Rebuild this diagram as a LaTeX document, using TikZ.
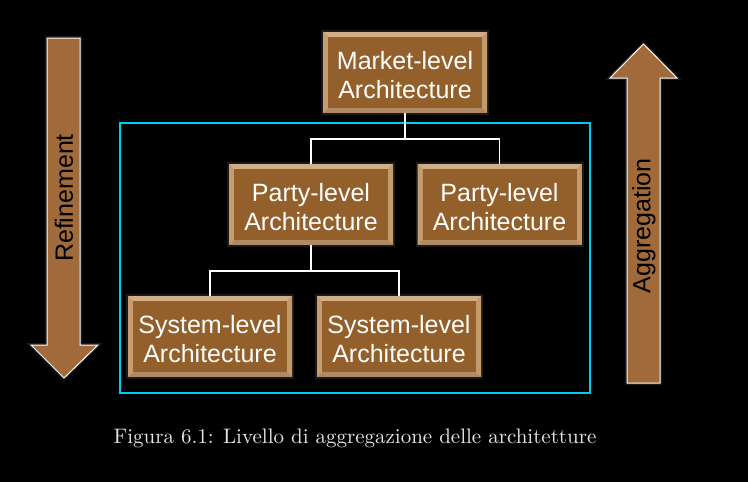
\documentclass[tikz,border=0pt]{standalone}
\usepackage{fontspec}
\newfontfamily\arialf{Liberation Sans}
\newfontfamily\capfont{lmroman10-regular}[Extension=.otf]
\usetikzlibrary{calc}
\newcommand\twolines[2]{\raisebox{-6pt}[\height][\depth]{\begin{tabular}{@{}c@{}}#1\\#2\end{tabular}}}
\definecolor{bginner}{HTML}{93602C}
\definecolor{bvtop}{HTML}{D2AE88}
\definecolor{bvleft}{HTML}{C69C70}
\definecolor{bvright}{HTML}{C29A6C}
\definecolor{bvbot}{HTML}{B08A64}
\definecolor{arrowfill}{HTML}{A06A3A}
\definecolor{framecyan}{HTML}{00CCEE}
\definecolor{captiongray}{HTML}{E6E6E6}
\tikzset{
  archbox/.style={minimum width=164pt, minimum height=81pt, inner sep=0pt,
    fill=bvbot, text=white, align=center,
    font=\arialf\fontsize{25}{29}\selectfont,
    preaction={draw=gray!60, line width=4pt, opacity=.15},
    path picture={
      \fill[bvtop] (path picture bounding box.north west) -- (path picture bounding box.north east) -- ++(-5pt,-5pt) -- ($(path picture bounding box.north west)+(5pt,-5pt)$) -- cycle;
      \fill[bvleft] (path picture bounding box.north west) -- (path picture bounding box.south west) -- ++(5pt,5pt) -- ($(path picture bounding box.north west)+(5pt,-5pt)$) -- cycle;
      \fill[bvright] (path picture bounding box.north east) -- (path picture bounding box.south east) -- ++(-5pt,5pt) -- ($(path picture bounding box.north east)+(-5pt,-5pt)$) -- cycle;
      \fill[bginner] ($(path picture bounding box.south west)+(5pt,5pt)$) rectangle ($(path picture bounding box.north east)+(-5pt,-5pt)$);
    }},
  conn/.style={draw=white, line width=1.5pt},
  bigarrow/.style={fill=arrowfill, draw=white, line width=1pt,
    preaction={draw=gray!60, line width=4pt, opacity=.15}},
  arrowtext/.style={rotate=90, text=black, font=\arialf\fontsize{25}{30}\selectfont, inner sep=0pt},
}
\begin{document}
\begin{tikzpicture}[x=1pt, y=-1pt]
  \fill[black] (0,0) rectangle (748,482);
  \useasboundingbox (0,0) rectangle (748,482);
  % frame
  \draw[framecyan, line width=1.2pt] (120,123) rectangle (590,393);
  % boxes
  \node[archbox] (m)  at (405,72.5)  {\twolines{Market-level}{Architecture}};
  \node[archbox] (p1) at (311,204.5) {\twolines{Party-level}{Architecture}};
  \node[archbox] (p2) at (499.5,204.5) {\twolines{Party-level}{Architecture}};
  \node[archbox] (s1) at (210,336.5) {\twolines{System-level}{Architecture}};
  \node[archbox] (s2) at (399,336.5) {\twolines{System-level}{Architecture}};
  % connectors
  \draw[conn] (m.south) -- ++(0,26) -| (p1.north);
  \draw[conn] (m.south) -- ++(0,26) -| (p2.north);
  \draw[conn] (p1.south) -- ++(0,26) -| (s1.north);
  \draw[conn] (p1.south) -- ++(0,26) -| (s2.north);
  % refinement arrow
  \draw[bigarrow] (47,38) -- (80,38) -- (80,345) -- (98,345) -- (64,378) -- (31,345) -- (47,345) -- cycle;
  \node[arrowtext] (ref) at (64,198) {Refinement};
  % aggregation arrow
  \draw[bigarrow] (627,383) -- (660,383) -- (660,78) -- (677,78) -- (643.5,44) -- (610,78) -- (627,78) -- cycle;
  \node[arrowtext] (agg) at (644,226) {Aggregation};
  % caption
  \node[text=captiongray, font=\capfont\fontsize{21}{25}\selectfont, inner sep=0pt] (cap) at (355,438)
    {Figura 6.1: Livello di aggregazione delle architetture};
\end{tikzpicture}
\end{document}
